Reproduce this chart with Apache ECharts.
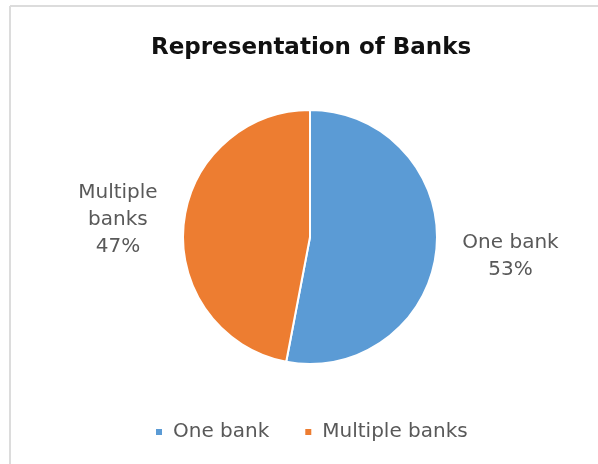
<!DOCTYPE html>
<html>
<head>
<meta charset="utf-8">
<script src="https://cdn.jsdelivr.net/npm/echarts@6/dist/echarts.min.js"></script>
<style>
  html, body { margin: 0; padding: 0; background: #fff; }
  #chart { width: 598px; height: 464px; }
</style>
</head>
<body>
<div id="chart"></div>
<script>
// pie data
const categories = ['One bank', 'Multiple banks']
const shares = [53, 47]
const colors = ['#5B9BD5', '#ED7D31']

const chart = echarts.init(document.getElementById('chart'))

chart.setOption({
  backgroundColor: '#fff',
  textStyle: { fontFamily: '"DejaVu Sans", sans-serif' },
  title: {
    text: 'Representation of Banks',
    left: 146,
    top: 32,
    textStyle: {
      fontSize: 23,
      fontWeight: 'bold',
      color: '#111',
      fontFamily: '"DejaVu Sans", sans-serif'
    }
  },
  legend: {
    bottom: 17,
    left: 149,
    icon: 'rect',
    itemWidth: 8,
    itemHeight: 8,
    itemGap: 34,
    textStyle: { fontSize: 20, color: '#595959', padding: [0, 0, 0, 5] },
    data: categories
  },
  graphic: [
    { type: 'line', shape: { x1: 10, y1: 6, x2: 598, y2: 6 }, style: { stroke: '#dcdcdc', lineWidth: 2 } },
    { type: 'line', shape: { x1: 10, y1: 6, x2: 10, y2: 464 }, style: { stroke: '#dcdcdc', lineWidth: 2 } }
  ],
  series: [
    {
      type: 'pie',
      center: [310, 237],
      radius: 127,
      startAngle: 90,
      clockwise: true,
      animation: false,
      itemStyle: { borderColor: '#fff', borderWidth: 2 },
      label: {
        show: true,
        position: 'outside',
        fontSize: 20,
        lineHeight: 27,
        color: '#595959',
        formatter: p => p.dataIndex === 1 ? 'Multiple\nbanks\n' + p.value + '%' : p.name + '\n' + p.value + '%'
      },
      labelLine: { show: false, length: 18, length2: 0 },
      labelLayout: p => {
        const half = p.labelRect.width / 2
        return p.dataIndex === 1
          ? { align: 'center', dx: -half - 3, dy: -4 }
          : { align: 'center', dx: half + 3, dy: 6 }
      },
      data: categories.map((name, i) => ({
        name: name,
        value: shares[i],
        itemStyle: { color: colors[i] }
      }))
    }
  ]
})
</script>
</body>
</html>
